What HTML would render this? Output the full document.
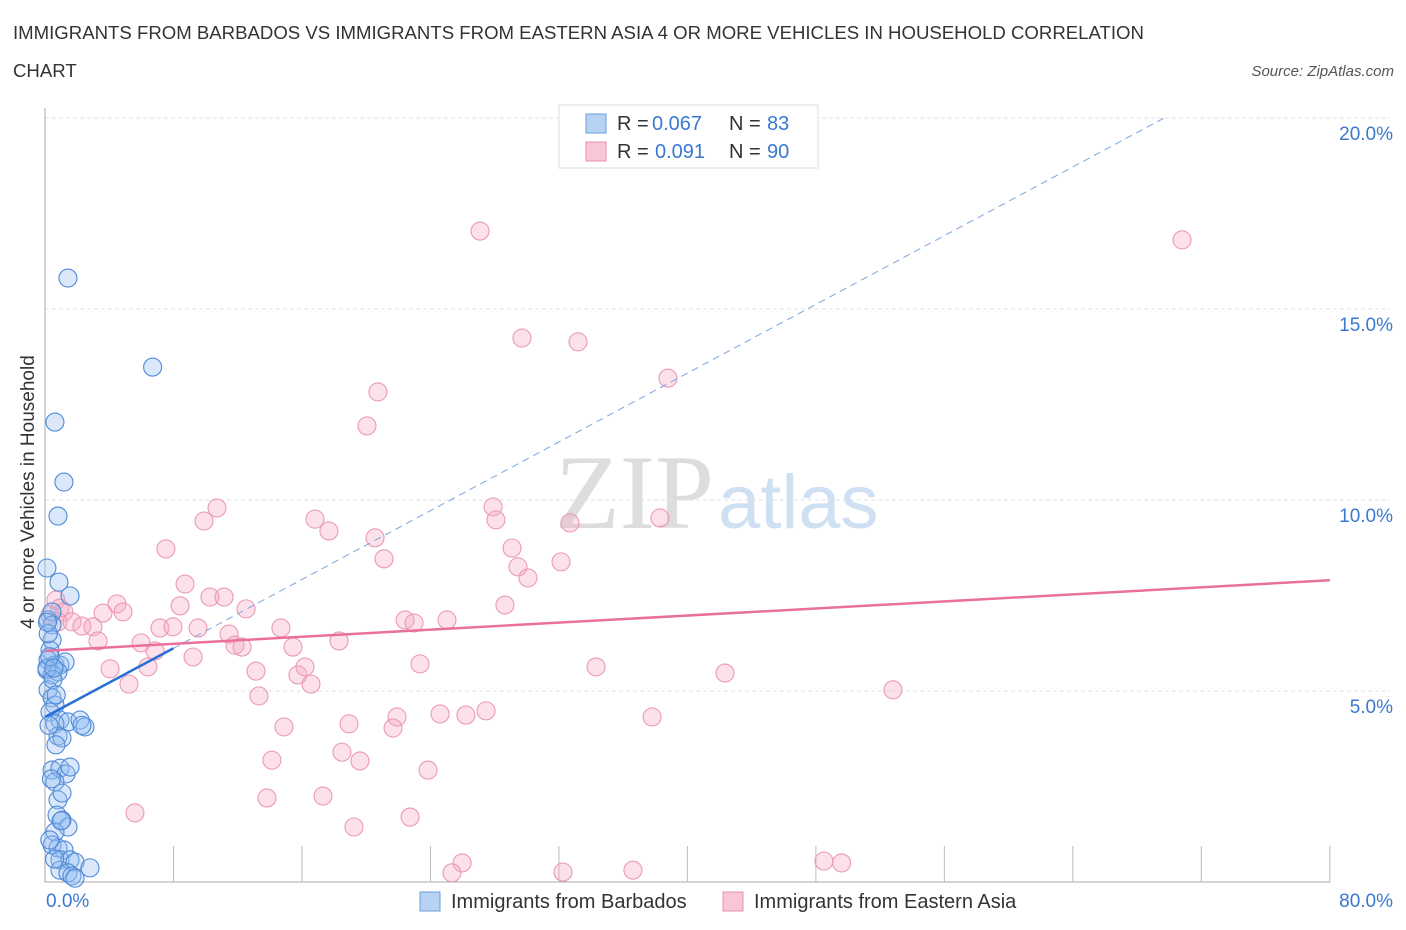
<!DOCTYPE html>
<html><head><meta charset="utf-8"><style>
body{margin:0;background:#fff;font-family:"Liberation Sans",sans-serif}
svg{display:block}
</style></head><body>
<svg id="c" width="1406" height="930">
<text x="13" y="39" font-size="18.6" fill="#333">IMMIGRANTS FROM BARBADOS VS IMMIGRANTS FROM EASTERN ASIA 4 OR MORE VEHICLES IN HOUSEHOLD CORRELATION</text>
<text x="13" y="77" font-size="18.6" fill="#333">CHART</text>
<text x="1394" y="76" font-size="15" fill="#555" font-style="italic" text-anchor="end">Source: ZipAtlas.com</text>
<text x="555" y="528" font-size="106" fill="#ddd" font-family="Liberation Serif,serif">ZIP</text>
<text x="718" y="528" font-size="76" fill="#cfe0f3">atlas</text>
<g id="grid"></g>
<g id="marks"></g>
<text x="34" y="492" font-size="19" fill="#333" text-anchor="middle" transform="rotate(-90 34 492)">4 or more Vehicles in Household</text>
<g>
<rect x="559" y="105" width="259" height="63" fill="#fff" stroke="#ddd"/>
<rect x="586" y="114" width="20" height="19" fill="#b8d2f4" stroke="#6a9ee0"/>
<text x="617" y="130" font-size="20" fill="#333">R =</text>
<text x="652" y="130" font-size="20" fill="#3a78d0">0.067</text>
<text x="729" y="130" font-size="20" fill="#333">N =</text>
<text x="767" y="130" font-size="20" fill="#3a78d0">83</text>
<rect x="586" y="142" width="20" height="19" fill="#f8c6d4" stroke="#e890aa"/>
<text x="617" y="158" font-size="20" fill="#333">R =</text>
<text x="655" y="158" font-size="20" fill="#3a78d0">0.091</text>
<text x="729" y="158" font-size="20" fill="#333">N =</text>
<text x="767" y="158" font-size="20" fill="#3a78d0">90</text>
</g>
<g>
<rect x="420" y="892" width="20" height="19" fill="#b8d2f4" stroke="#6a9ee0"/>
<text x="451" y="908" font-size="20" fill="#333">Immigrants from Barbados</text>
<rect x="723" y="892" width="20" height="19" fill="#f8c6d4" stroke="#e890aa"/>
<text x="754" y="908" font-size="20" fill="#333">Immigrants from Eastern Asia</text>
</g>
</svg>
<script>
const yTicks=[5,10,15,20];
const yTickLabels=["5.0%","10.0%","15.0%","20.0%"];
const xLabels=["0.0%","80.0%"];
const blueX=[1.43,6.7,0.62,1.18,0.81,0.12,0.87,1.56,0.19,0.44,0.44,0.44,0.31,0.19,0.62,0.93,1.25,0.12,0.44,0.81,0.19,0.44,0.62,0.31,0.93,1.43,2.18,2.49,0.62,0.81,1.06,0.68,0.44,0.93,1.31,1.56,0.62,0.81,1.06,0.75,1.06,1.43,0.62,0.44,0.81,1.18,0.93,1.56,1.87,2.8,0.93,1.43,1.68,1.87,0.12,0.3,0.2,0.5,0.7,0.25,0.4,1.0,0.3,0.6,2.3,0.15,0.55];
const blueY=[15.81,13.48,12.04,10.47,9.58,8.22,7.85,7.49,6.86,7.07,6.73,6.34,6.07,5.81,5.68,5.68,5.76,5.55,5.42,5.5,5.03,4.82,4.63,4.45,4.24,4.19,4.24,4.06,4.14,3.82,3.77,3.59,2.93,2.98,2.83,3.01,2.62,2.15,2.33,1.75,1.62,1.44,1.31,0.97,0.89,0.84,0.58,0.58,0.52,0.37,0.31,0.24,0.16,0.1,5.6,5.9,6.5,5.3,4.9,4.1,2.7,1.6,1.1,0.6,4.1,6.8,5.6];
const pinkX=[27.09,70.8,29.7,33.19,38.79,20.73,20.05,27.9,28.08,38.29,32.69,10.71,9.9,16.81,17.68,20.55,21.11,7.53,29.08,29.45,32.13,30.07,8.72,10.27,11.15,12.52,8.41,28.64,4.48,3.61,4.86,0.68,0.93,1.18,0.81,1.68,2.3,2.99,0.31,22.42,22.98,25.03,7.16,7.97,9.53,11.46,14.69,3.3,5.98,6.85,11.83,12.27,18.31,15.44,4.05,6.41,9.22,13.14,15.75,16.19,16.56,5.23,23.35,34.31,42.34,52.8,13.32,18.93,21.92,21.67,24.6,26.21,27.46,37.8,14.88,18.49,19.61,14.13,23.85,13.82,17.31,5.6,19.24,22.73,25.97,25.34,32.25,36.61,48.5,49.6];
const pinkY=[17.04,16.81,14.24,14.14,13.19,12.83,11.94,9.82,9.48,9.53,9.4,9.79,9.45,9.5,9.19,9.01,8.46,8.72,8.74,8.25,8.38,7.96,7.8,7.46,7.46,7.15,7.23,7.25,7.28,7.04,7.07,7.38,7.17,7.07,6.81,6.81,6.7,6.68,6.99,6.86,6.78,6.86,6.65,6.68,6.65,6.49,6.65,6.31,6.26,6.05,6.2,6.15,6.31,6.15,5.58,5.63,5.89,5.52,5.42,5.63,5.18,5.18,5.71,5.63,5.47,5.03,4.87,4.14,4.32,4.03,4.4,4.37,4.48,4.32,4.06,3.4,3.17,3.19,2.93,2.2,2.25,1.81,1.44,1.7,0.5,0.24,0.26,0.31,0.55,0.5];
const blueTrend=[0,4.32,8,6.12];
const pinkTrend=[0,6.05,80,7.9];
const X=v=>45+v*16.06, Y=v=>882-v*38.2;
const NS="http://www.w3.org/2000/svg";
function mk(t,a,p){const e=document.createElementNS(NS,t);for(const k in a)e.setAttribute(k,a[k]);p.appendChild(e);return e;}
const g=document.getElementById('grid'),m=document.getElementById('marks');
yTicks.forEach((t,i)=>{
 const l=mk('line',{x1:45,x2:1390,y1:Y(t),y2:Y(t),stroke:'#e2e2e2','stroke-dasharray':'4 3'},g);
 
 
 const tx=mk('text',{x:1393,y:Y(t)+22,'font-size':19,fill:'#3a78d0','text-anchor':'end'},g);
 tx.textContent=yTickLabels[i];
 
 
});
const ax=mk('path',{d:'M45 108V882H1330',stroke:'#aaa',fill:'none'},g);


for(let i=1;i<=10;i++){const tk=mk('line',{x1:X(i*8),x2:X(i*8),y1:846,y2:882,stroke:'#bbb'},g);
 
 }
[[0,'start',46],[80,'end',1393]].forEach((d,i)=>{const t=mk('text',{x:d[2],y:907,'font-size':19,fill:'#3a78d0','text-anchor':d[1]},g);t.textContent=xLabels[i];
 
 });
pinkX.forEach((x,i)=>{const c=mk('circle',{cx:X(x),cy:Y(pinkY[i]),r:9,fill:'rgba(245,170,195,0.35)',stroke:'#eb9ab3','stroke-width':1.1},m);
 
 });
blueX.forEach((x,i)=>{const c=mk('circle',{cx:X(x),cy:Y(blueY[i]),r:9,fill:'rgba(150,190,240,0.35)',stroke:'#4f8ad8','stroke-width':1.1},m);
 
 });
const slope=(blueTrend[3]-blueTrend[1])/(blueTrend[2]-blueTrend[0]);
const xEnd=(20.0-blueTrend[1])/slope;
const bd=mk('line',{x1:X(blueTrend[2]),y1:Y(blueTrend[3]),x2:X(xEnd),y2:Y(20.0),stroke:'#7aa6de','stroke-width':1,'stroke-dasharray':'7 5'},m);


const bl=mk('line',{x1:X(blueTrend[0]),y1:Y(blueTrend[1]),x2:X(blueTrend[2]),y2:Y(blueTrend[3]),stroke:'#2a6fd6','stroke-width':2.5},m);


const pl=mk('line',{x1:X(pinkTrend[0]),y1:Y(pinkTrend[1]),x2:X(pinkTrend[2]),y2:Y(pinkTrend[3]),stroke:'#e8709a','stroke-width':2.5},m);


</script>
</body></html>
